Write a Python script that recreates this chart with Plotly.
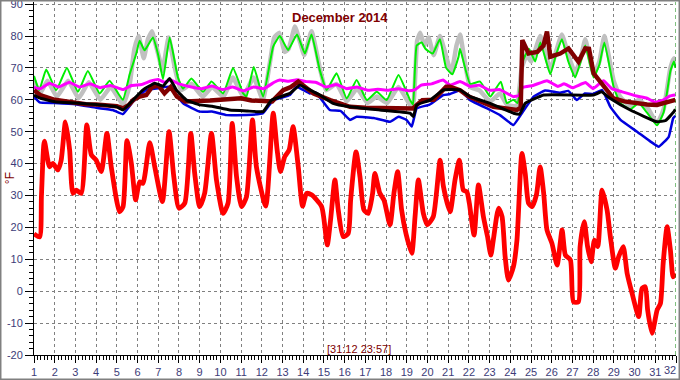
import plotly.graph_objects as go

# ---- data (day of month, °F) ----
red_x = [1.0,1.27,1.36,1.5,1.75,1.91,2.15,2.31,2.52,2.72,2.88,3.04,3.28,3.55,3.77,4.0,4.25,4.52,4.73,5.13,5.3,5.49,5.7,5.91,6.1,6.26,6.59,6.83,7.2,7.52,7.75,8.0,8.28,8.57,8.76,9.0,9.24,9.57,9.81,10.13,10.37,10.57,10.78,11.02,11.26,11.55,11.74,12.19,12.55,12.74,12.9,13.11,13.32,13.51,13.76,13.97,14.16,14.4,14.89,15.16,15.32,15.53,15.69,15.93,16.17,16.29,16.55,16.74,16.93,17.14,17.35,17.46,17.7,17.9,18.19,18.38,18.56,18.75,18.96,19.24,19.4,19.56,19.8,19.99,20.28,20.61,20.77,21.09,21.33,21.54,21.73,21.9,22.02,22.25,22.46,22.7,22.9,23.06,23.19,23.43,23.6,23.75,23.91,24.15,24.32,24.56,24.72,24.88,25.05,25.26,25.44,25.61,25.77,26.01,26.26,26.5,26.66,26.9,27.05,27.29,27.37,27.57,27.73,27.9,28.06,28.22,28.43,28.67,28.83,29.07,29.23,29.45,29.64,29.88,30.2,30.36,30.52,30.63,30.84,31.09,31.25,31.38,31.57,31.73,31.86,31.97]
red_y = [18,17,30,47,39,40.1,38,41,53.1,44.3,30.7,31.7,30.7,52.1,42.7,41.1,37.5,49.5,39,24.9,26.5,47.2,40.1,28.6,34.3,33.8,46.6,39,28.1,50,35.9,26,27.6,49.5,36.9,26.5,30.7,49.5,34.9,24.4,27.6,52.6,35.9,26.5,29.6,53.7,39,26.7,55.8,44.3,37.5,42.2,44.3,51.6,39,26.7,30.7,30.2,26.5,14.5,22.3,34.9,25.5,17.1,18.1,28.6,43.7,35.9,25.5,24.4,30.7,36.9,30.7,28.6,20.8,30.7,37.5,25.5,18.1,11.9,23.4,34.9,24.4,20.8,23.4,41.1,32.8,24.9,34.9,41.1,31.7,31.2,27.6,17.6,33.3,23.4,17.1,11.3,16.6,26,23.4,10.8,3.5,7.7,16,43.2,36.9,27.6,26.5,30.2,39,30.7,19.2,15,8.2,19.2,11.3,9.8,-3.3,-3.3,14,21.8,14,9.2,16,14,31.7,25.5,17.1,7.2,10.8,14,5.6,-0.7,-8,0.9,1.4,-5.9,-13.2,-5.9,-3.8,8.7,20.2,12.9,4.5,5.6]

grey_x = [1.0,1.3,1.65,2.1,2.65,3.15,3.65,4.2,4.7,5.3,5.6,5.85,6.05,6.3,6.5,6.7,6.85,7.05,7.2,7.5,7.8,8.1,8.6,9.15,9.6,10.15,10.6,11.1,11.6,12.05,12.4,12.6,12.85,13.1,13.3,13.6,13.85,14.05,14.4,14.8,15.1,15.6,16.1,16.6,17.1,17.55,18.05,18.6,19.15,19.3,19.5,19.65,19.85,20.05,20.3,20.6,20.8,21.15,21.4,21.57,21.8,22.06,22.5,23.03,23.5,23.83,24.3,24.55,24.8,25.0,25.45,25.93,26.2,26.49,26.8,27.13,27.4,27.62,28.02,28.3,28.54,28.99,29.3,29.79,30.2,30.68,31.08,31.4,31.73,31.9,31.97]
grey_y = [66,62,66,61,66,60.5,65.5,60,64,58.5,64,76,80,73,79,81.5,78,73,69,79.5,70,63,65,61,64,61,67,61,67,60,72,79.5,81,75,76,83,78,74,81.5,70,63,65,59.5,63.5,59,61,59,64,58.5,58,78.5,81,77,79.5,74,80,76,68.5,77,80.5,72,64,63,59.5,62,58.5,58,70,74,72,80,69.5,75,80.5,74,68.5,73,79,68,72,80,66,61,58,60,57,52.5,57,70,73,71]

green_x = [1.0,1.25,1.59,2.07,2.59,3.12,3.6,4.17,4.65,5.29,5.62,5.94,6.1,6.34,6.74,7.0,7.23,7.55,7.95,8.2,8.6,9.16,9.57,10.13,10.61,11.1,11.26,11.61,12.06,12.55,12.87,13.27,13.7,14.08,14.4,14.8,15.13,15.61,16.1,16.58,17.07,17.55,18.03,18.6,19.16,19.3,19.48,19.72,19.9,20.25,20.6,20.9,21.2,21.5,21.57,22.06,22.54,23.03,23.54,23.83,24.15,24.35,24.6,24.9,25.2,25.45,25.93,26.2,26.49,26.8,27.13,27.4,27.62,28.02,28.3,28.54,28.99,29.3,29.79,30.2,30.6,31.08,31.4,31.73,31.9,31.97]
green_y = [67.5,63,69.5,63,70,62.5,69,62,66,60,68,74.5,78.5,75.5,79.5,74,66.5,79.5,67,63.5,66.7,62.5,65.7,62,70,62,61,70.3,61,76.7,80,75.6,80.5,74.5,80.5,69.3,63.1,68.3,60.4,66.2,59.9,62.5,59.9,67.8,59.9,58.5,77,78,76,74.5,79,70,68,73.5,76,65,65.7,61,65.7,59,60,59,72,76,72,78,68,74,79,72,67,72,77,67,71,78,64,59,57,59,56,52,56,69,72,70]

magenta_x = [1.0,1.3,1.75,2.2,2.7,3.2,3.7,4.2,4.7,5.3,5.7,6.2,6.6,7.0,7.3,7.6,8.0,8.6,9.1,9.6,10.1,10.6,11.1,11.6,12.1,12.6,12.87,13.3,13.7,14.16,14.6,15.1,15.6,16.1,16.6,17.1,17.6,18.1,18.6,19.1,19.4,19.7,20.2,20.75,21.09,21.57,22.06,22.5,23.0,23.5,24.14,24.4,24.6,25.1,25.77,26.3,26.6,27.0,27.63,28.0,28.5,28.9,29.4,30.1,30.6,31.0,31.4,31.7,31.97]
magenta_y = [63.9,63.5,65.2,64,65.5,64,65,63.8,64.5,63.2,64.5,64.8,65.8,66.4,65.5,66.2,65,64,63.5,64.3,63.2,64,62.8,64,63.5,65.5,66.2,65.8,66.3,65.7,65.5,64,64.8,63.5,64,63,63.3,63,63.5,62.8,63.2,64.6,65,66.2,64.6,65.7,64.2,64.6,63,63.2,61,61.3,63.9,64.5,66,64.2,65,63.8,65.4,63.5,66,63.5,62.5,61.2,60.5,59.2,60,61.2,61.5]

maroon_x = [1.0,1.3,2.0,2.5,3.0,3.5,4.0,4.5,5.0,5.3,5.6,5.8,6.1,6.42,6.7,7.0,7.3,7.6,7.9,8.3,9.0,9.5,10.0,10.5,11.0,11.5,12.0,12.5,13.03,13.4,13.76,14.1,14.5,15.3,16.26,17.0,18.0,19.0,19.3,19.5,19.75,20.3,20.6,20.9,21.09,21.57,22.0,22.5,23.18,23.8,24.32,24.5,24.58,24.88,25.3,25.6,25.77,25.93,26.41,26.81,27.29,27.62,27.8,28.02,28.51,28.99,29.5,30.12,30.6,31.08,31.57,31.97]
maroon_y = [63,61.5,60,59.5,59,58.6,58.5,58.3,58,57.3,58.5,60,61,61.5,64,64.5,62,64,61,59.5,59.5,59.8,60,60.3,60.5,59.8,59.5,59.5,63,64,65.7,64,62,59.9,57.8,57.5,57.3,57.2,57.3,58.5,59.9,60,62,64.1,64.1,63,61,59.5,57.8,57.3,56.8,57.5,78.7,74.5,75,77,81.4,73.5,74.5,76.1,71.9,76.1,76,68.3,64.1,60.4,59.5,58.9,58.5,58.4,59.4,60]

black_x = [1.0,1.3,2.0,3.0,4.0,5.0,5.3,5.78,6.26,6.83,7.23,7.55,7.87,8.36,9.0,9.6,10.45,11.3,12.06,12.47,13.36,13.84,14.2,14.8,15.44,16.26,17.7,19.16,19.32,19.48,20.12,20.77,21.57,22.06,23.03,24.15,24.45,24.72,25.61,28.02,28.4,28.83,29.79,31.08,31.5,31.9,31.97]
black_y = [61.5,60.5,59.4,59,58.5,57.8,56.8,59.9,63.1,65.2,64.3,66.7,63.1,59.9,58.4,58,56.8,56.5,56.3,59.9,62,64.6,63.5,61.5,58.9,57.8,56.8,55.8,54.7,58.4,59.9,63.1,63.1,61,58.9,55.8,55.5,58.9,61.5,61.5,62.5,60.4,56.8,53.1,53.5,56.3,57]

blue_x = [1.0,1.27,2.0,3.0,4.0,4.8,5.29,5.78,6.42,7.0,7.55,8.2,9.0,9.6,10.3,11.26,12.06,12.55,13.36,13.68,14.32,14.6,15.28,15.8,16.26,16.58,17.4,18.19,18.6,18.99,19.24,19.48,20.1,20.77,21.09,21.57,22.06,23.03,23.5,24.15,24.56,25.12,25.68,26.4,26.8,27.21,27.6,28.0,28.43,28.83,29.32,30.12,30.77,31.17,31.65,31.86,31.97]
blue_y = [61,59.2,59,58.6,57.5,56.8,55.5,59.4,63.1,63.6,64.1,58.9,56.3,56.3,55.2,55.2,55.8,59.9,61.5,64.1,62,62.3,56.8,56.5,53.7,54.7,54.3,53.1,54.7,53.7,51.6,57.3,58.5,61.5,61.8,63,59.9,56.8,55.2,52.1,55.8,61,62.9,62.2,62.8,59.9,62,61.8,63.1,57.8,53.7,50,46.9,45.3,48.4,54.2,55]

x_ticks = list(range(1, 33))
x_labels = [str(t) for t in x_ticks[:-1]] + [""]
last_x_label = str(x_ticks[-1])
y_ticks = list(range(-20, 91, 10))
title_text = "December 2014"
stamp_text = "[31:12 23:57]"
unit_text = "°F"

fig = go.Figure()
series = [
    (grey_x, grey_y, "#c0c0c0", 4.5, 0.4),
    (green_x, green_y, "#00ee00", 2, 0.4),
    (magenta_x, magenta_y, "#ff00ff", 3, 0.3),
    (blue_x, blue_y, "#0000dd", 2.5, 0.3),
    (maroon_x, maroon_y, "#800000", 4.5, 0.0),
    (black_x, black_y, "#000000", 3, 0.3),
    (red_x, red_y, "#ff0000", 4.8, 0.6),
]
for xs, ys, col, w, sm in series:
    if sm > 0:
        ln = dict(color=col, width=w, shape="spline", smoothing=sm)
    else:
        ln = dict(color=col, width=w)
    fig.add_trace(go.Scatter(x=xs, y=ys, mode="lines", line=ln,
                             hoverinfo="skip", showlegend=False))

tick_font = dict(family="Liberation Sans, Arial, sans-serif", size=11, color="#3c3c78")
fig.update_xaxes(range=[1, 32], tickvals=x_ticks, ticktext=x_labels,
                 showgrid=True, gridcolor="#808080", griddash="3px,3px", gridwidth=1,
                 showline=True, linecolor="#000000", linewidth=1,
                 ticks="outside", ticklen=7, tickcolor="#000000", tickfont=tick_font,
                 ticklabeloverflow="allow",
                 minor=dict(dtick=1/6, tick0=1, ticks="outside", ticklen=4, tickcolor="#000000", showgrid=False),
                 zeroline=False, fixedrange=True, automargin=False)
fig.update_yaxes(range=[-20, 90.66], tickvals=y_ticks, ticktext=[str(t) for t in y_ticks],
                 showgrid=True, gridcolor="#808080", griddash="3px,3px", gridwidth=1,
                 showline=True, linecolor="#000000", linewidth=1,
                 ticks="outside", ticklen=8, tickcolor="#000000", tickfont=tick_font,
                 ticklabeloverflow="allow",
                 minor=dict(dtick=2, tick0=0, ticks="outside", ticklen=4, tickcolor="#000000", showgrid=False),
                 zeroline=False, fixedrange=True, automargin=False)

fig.add_vline(x=32, line=dict(color="#008000", width=1, dash="4px,3px"))

fig.add_annotation(text=last_x_label, xref="paper", yref="paper", x=1.003, y=-0.043,
                   showarrow=False, xanchor="right", yanchor="middle", font=tick_font)
fig.add_annotation(text=title_text, xref="paper", yref="paper", x=0.4766, y=0.9547,
                   showarrow=False, xanchor="center", yanchor="middle",
                   font=dict(family="Liberation Sans, Arial, sans-serif", size=13, color="#800000", weight="bold"))
fig.add_annotation(text=stamp_text, xref="paper", yref="paper", x=0.506, y=0.017,
                   showarrow=False, xanchor="center", yanchor="middle",
                   font=dict(family="Liberation Sans, Arial, sans-serif", size=11, color="#800000"))
fig.add_annotation(text=unit_text, xref="paper", yref="paper", x=-0.0374, y=0.501,
                   showarrow=False, xanchor="center", yanchor="middle", textangle=-90,
                   font=dict(family="Liberation Sans, Arial, sans-serif", size=12, color="#800000"))

# outer frame
fig.add_shape(type="rect", xref="paper", yref="paper",
              x0=-0.0522, x1=1.0055, y0=-0.0694, y1=1.0042,
              line=dict(color="#808080", width=2), layer="above")

fig.update_layout(width=680, height=380, margin=dict(l=34, r=4, t=2, b=25, autoexpand=False),
                  paper_bgcolor="#ffffff", plot_bgcolor="#ffffff", template="none")
fig.write_html("out.html", config={"displayModeBar": False},
               post_script="document.body.style.margin='0';document.body.style.padding='0';document.body.style.overflow='hidden';")
